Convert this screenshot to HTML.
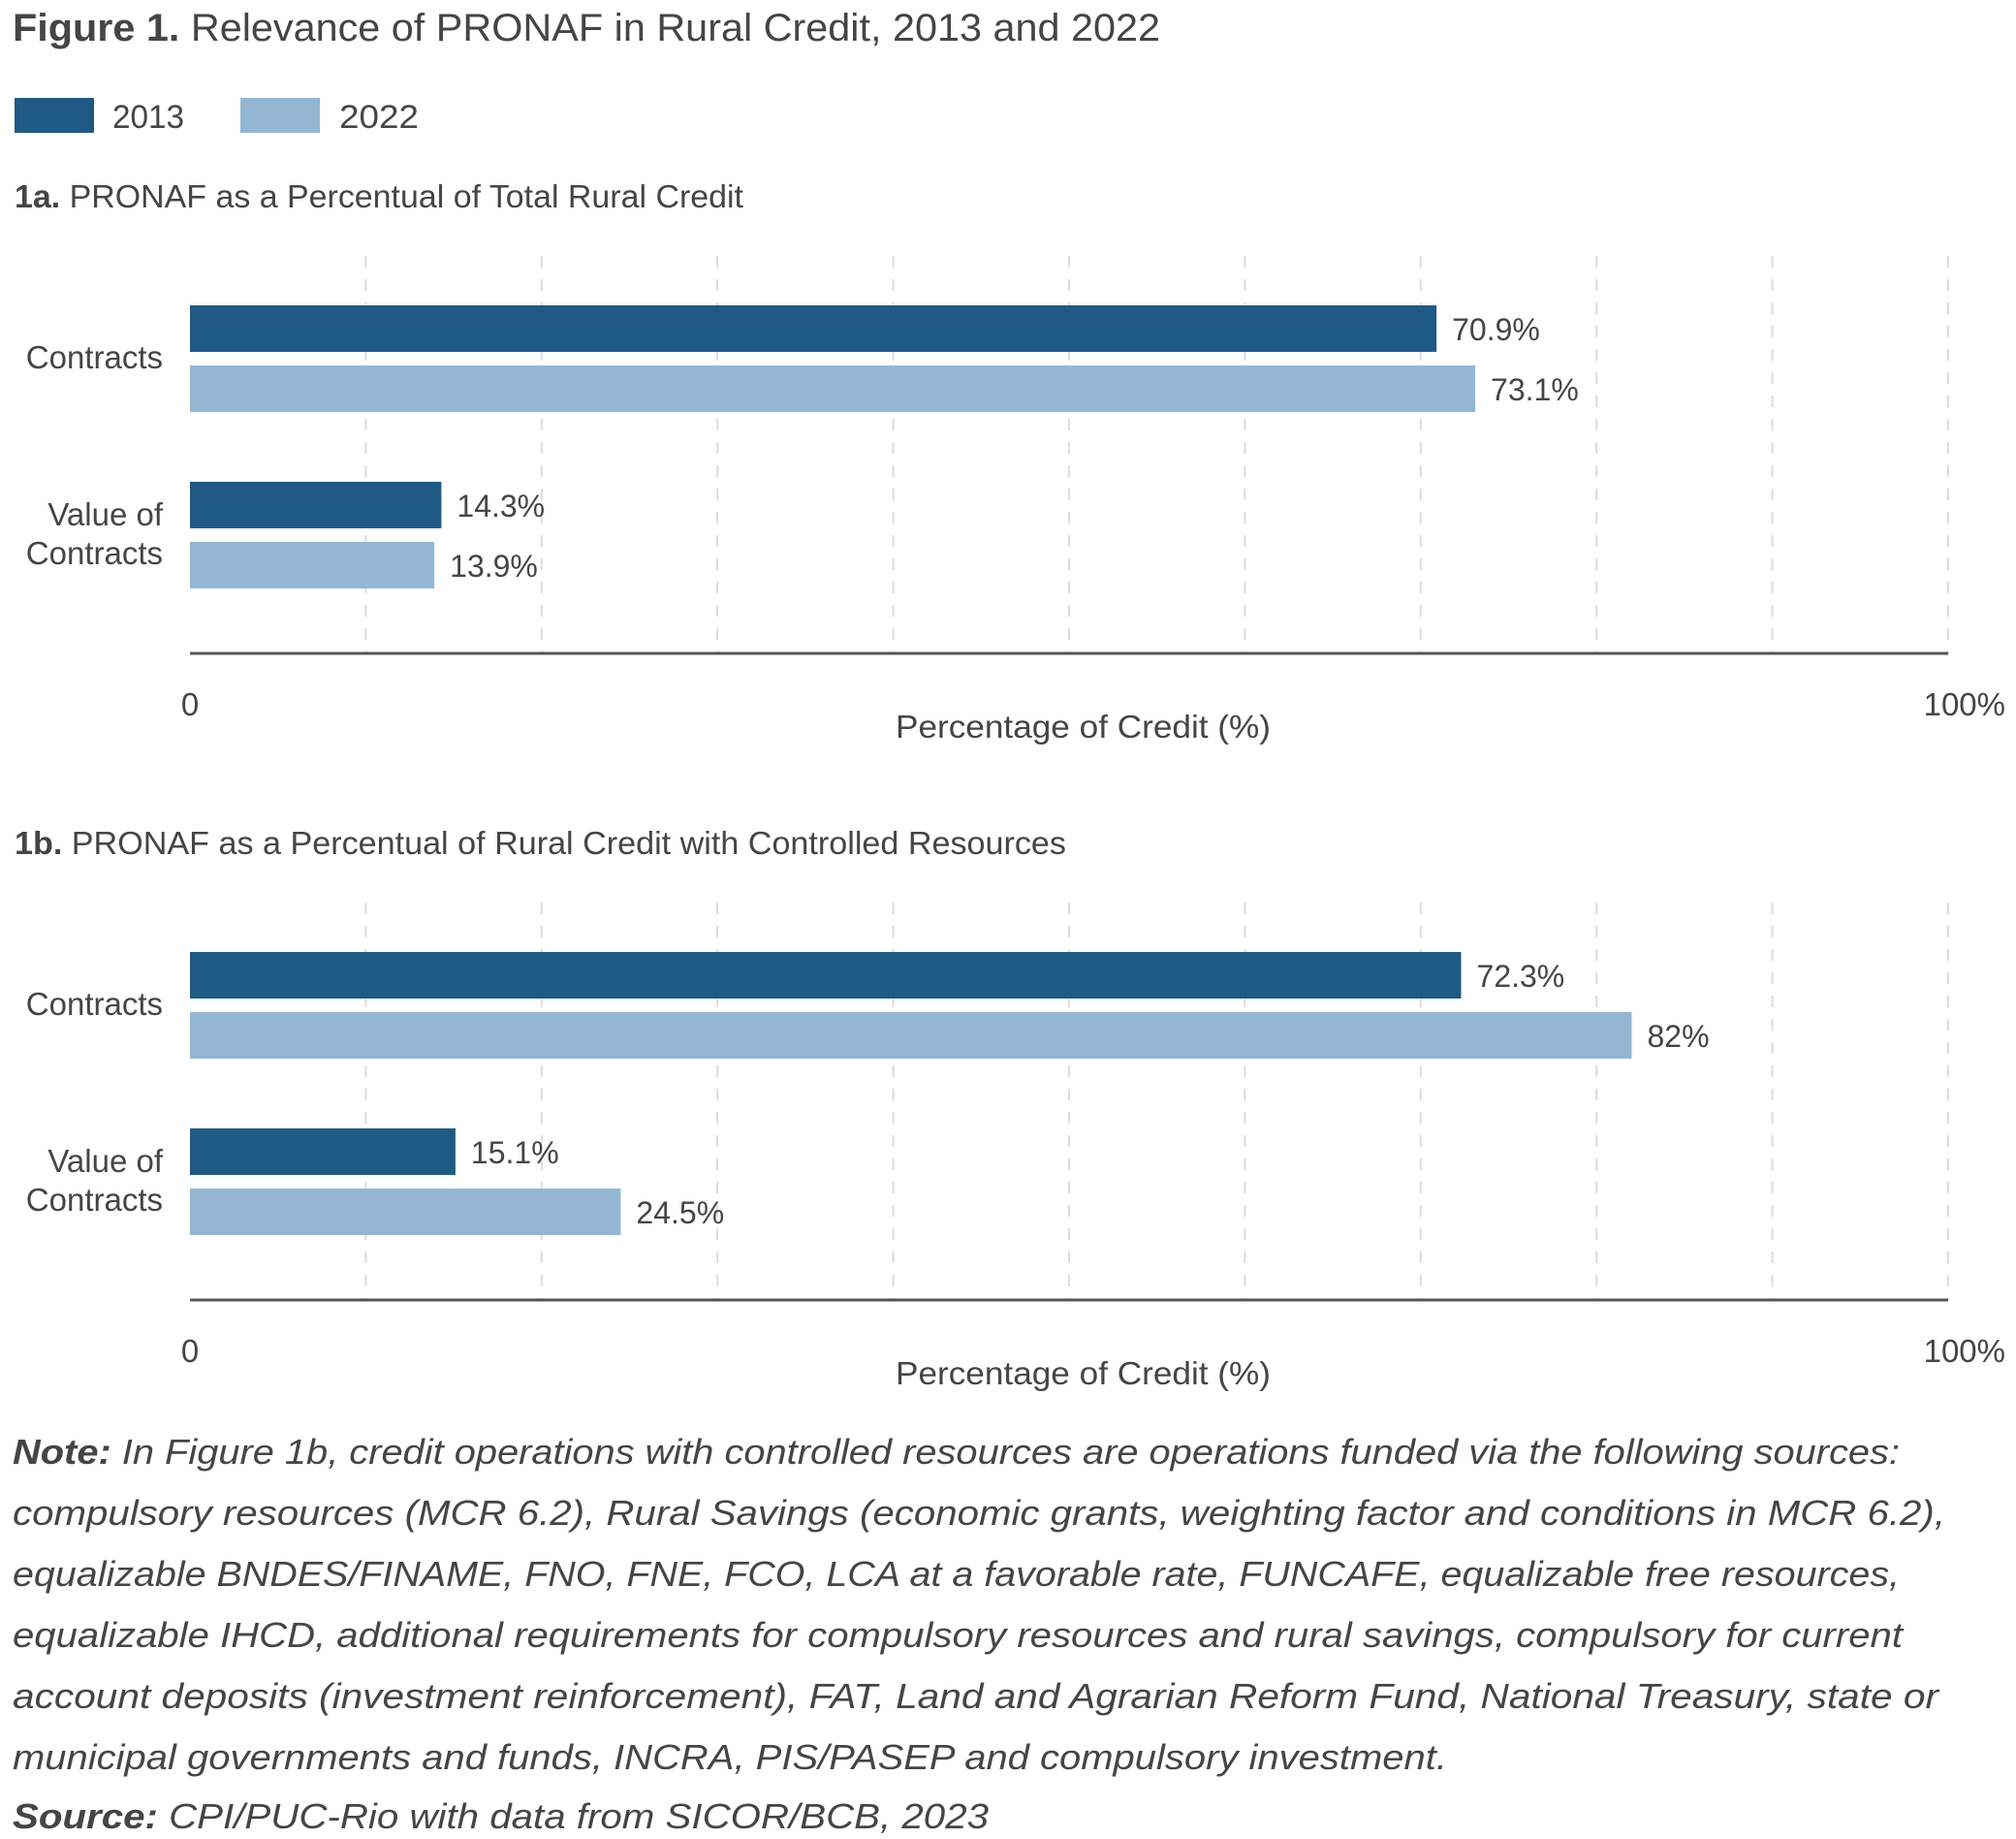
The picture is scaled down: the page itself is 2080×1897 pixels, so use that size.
<!DOCTYPE html>
<html><head><meta charset="utf-8">
<style>
html,body{margin:0;padding:0;background:#fff;}
svg{display:block;}
text{font-family:"Liberation Sans",sans-serif;fill:#454545;}
</style></head>
<body>
<svg id="fig" width="2080" height="1897" viewBox="0 0 2080 1897" xmlns="http://www.w3.org/2000/svg">
  <text x="13" y="42" font-size="40" textLength="1184" lengthAdjust="spacingAndGlyphs"><tspan font-weight="bold">Figure 1.</tspan> Relevance of PRONAF in Rural Credit, 2013 and 2022</text>
  <g>
    <g>
      <rect x="15" y="101" width="82" height="36" fill="#1f5a85"/>
      <text x="116" y="132" font-size="34" textLength="74" lengthAdjust="spacingAndGlyphs">2013</text>
    </g>
    <g>
      <rect x="248" y="101" width="82" height="36" fill="#93b7d3"/>
      <text x="350" y="132" font-size="34" textLength="82" lengthAdjust="spacingAndGlyphs">2022</text>
    </g>
  </g>
  <text x="15" y="214" font-size="33" textLength="752" lengthAdjust="spacingAndGlyphs"><tspan font-weight="bold">1a.</tspan> PRONAF as a Percentual of Total Rural Credit</text>
  <text x="15" y="881" font-size="33" textLength="1085" lengthAdjust="spacingAndGlyphs"><tspan font-weight="bold">1b.</tspan> PRONAF as a Percentual of Rural Credit with Controlled Resources</text>
  <g id="chartA"></g>
  <g id="chartB"></g>
  <g font-size="36" font-style="italic">
    <text x="13" y="1510" textLength="1947" lengthAdjust="spacingAndGlyphs"><tspan font-weight="bold">Note:</tspan> In Figure 1b, credit operations with controlled resources are operations funded via the following sources:</text>
    <text x="13" y="1573" textLength="1994" lengthAdjust="spacingAndGlyphs">compulsory resources (MCR 6.2), Rural Savings (economic grants, weighting factor and conditions in MCR 6.2),</text>
    <text x="13" y="1636" textLength="1947" lengthAdjust="spacingAndGlyphs">equalizable BNDES/FINAME, FNO, FNE, FCO, LCA at a favorable rate, FUNCAFE, equalizable free resources,</text>
    <text x="13" y="1699" textLength="1950" lengthAdjust="spacingAndGlyphs">equalizable IHCD, additional requirements for compulsory resources and rural savings, compulsory for current</text>
    <text x="13" y="1762" textLength="1987" lengthAdjust="spacingAndGlyphs">account deposits (investment reinforcement), FAT, Land and Agrarian Reform Fund, National Treasury, state or</text>
    <text x="13" y="1825" textLength="1480" lengthAdjust="spacingAndGlyphs">municipal governments and funds, INCRA, PIS/PASEP and compulsory investment.</text>
    <text x="13" y="1886" textLength="1007" lengthAdjust="spacingAndGlyphs"><tspan font-weight="bold">Source:</tspan> CPI/PUC-Rio with data from SICOR/BCB, 2023</text>
  </g>
</svg>
<script>
const categories = ["Contracts", "Value of Contracts"];
const seriesNames = ["2013", "2022"];
const chartA2013 = [70.9, 14.3];
const chartA2022 = [73.1, 13.9];
const chartB2013 = [72.3, 15.1];
const chartB2022 = [82, 24.5];
const valueLabelsA2013 = ["70.9%", "14.3%"];
const valueLabelsA2022 = ["73.1%", "13.9%"];
const valueLabelsB2013 = ["72.3%", "15.1%"];
const valueLabelsB2022 = ["82%", "24.5%"];
const xTickValues = [0, 10, 20, 30, 40, 50, 60, 70, 80, 90, 100];
const xTickLabels = ["0", "100%"];

const NS = "http://www.w3.org/2000/svg";
const X0 = 196, X1 = 2010;
function xScale(v){ return X0 + (X1 - X0) * v / 100; }
function mk(tag, attrs, parent){
  const el = document.createElementNS(NS, tag);
  for (const k in attrs) el.setAttribute(k, attrs[k]);
  parent.appendChild(el);
  return el;
}
const colors = ["#1f5a85", "#93b7d3"];

function drawChart(g, off, s2013, s2022, l2013, l2022, id){
  const gridTop = 264 + off, axisY = 674 + off;
  xTickValues.forEach(function(v, i){
    if (i === 0) return;
    const ln = mk("line", {x1: xScale(v), x2: xScale(v), y1: gridTop, y2: axisY, stroke: "#dcdcdc", "stroke-width": 2, "stroke-dasharray": "12 12"}, g);
    
    
  });
  const groupTop = [315, 497];
  const barH = 48, gap = 14;
  categories.forEach(function(cat, ci){
    const vals = [s2013[ci], s2022[ci]];
    const labs = [l2013[ci], l2022[ci]];
    vals.forEach(function(v, si){
      const y = groupTop[ci] + off + si * (barH + gap);
      const r = mk("rect", {x: X0, y: y, width: xScale(v) - X0, height: barH, fill: colors[si]}, g);
      
      
      const t = mk("text", {x: xScale(v) + 16, y: y + barH/2 + 12, "font-size": 32}, g);
      t.textContent = labs[si];
      
      
    });
  });
  // category labels
  let t = mk("text", {x: 168, y: 380 + off, "font-size": 33, "text-anchor": "end"}, g);
  t.textContent = "Contracts";
  
  
  t = mk("text", {x: 168, y: 542 + off, "font-size": 33, "text-anchor": "end"}, g);
  t.textContent = "Value of";
  
  
  t = mk("text", {x: 168, y: 582 + off, "font-size": 33, "text-anchor": "end"}, g);
  t.textContent = "Contracts";
  
  
  // axis
  const ax = mk("line", {x1: X0, x2: X1, y1: axisY, y2: axisY, stroke: "#555", "stroke-width": 3}, g);
  
  
  t = mk("text", {x: xScale(xTickValues[0]), y: 738 + off, "font-size": 33, "text-anchor": "middle"}, g);
  t.textContent = xTickLabels[0];
  
  
  t = mk("text", {x: 2069, y: 738 + off, "font-size": 33, "text-anchor": "end"}, g);
  t.textContent = xTickLabels[1];
  
  
  t = mk("text", {x: 924, y: 761 + off, "font-size": 33, textLength: 387, lengthAdjust: "spacingAndGlyphs"}, g);
  t.textContent = "Percentage of Credit (%)";
  
  
}
drawChart(document.getElementById("chartA"), 0, chartA2013, chartA2022, valueLabelsA2013, valueLabelsA2022, "1a");
drawChart(document.getElementById("chartB"), 667, chartB2013, chartB2022, valueLabelsB2013, valueLabelsB2022, "1b");
</script>
</body></html>
